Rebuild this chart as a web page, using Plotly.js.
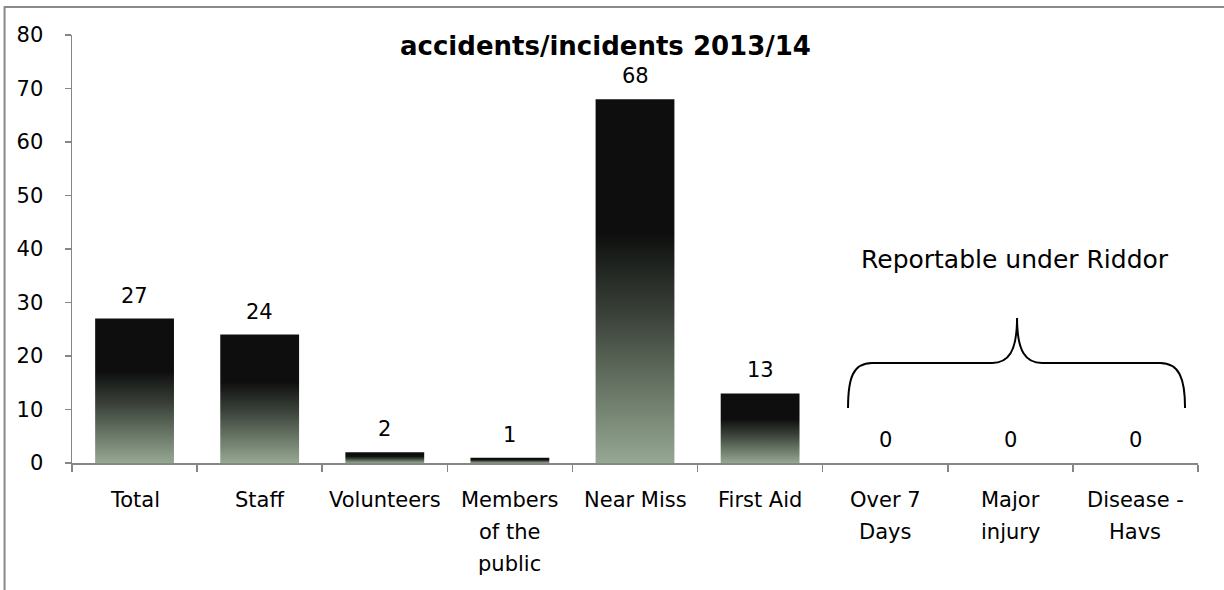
<!DOCTYPE html>
<html>
<head>
<meta charset="utf-8">
<script src="https://cdn.plot.ly/plotly-3.0.1.min.js"></script>
<style>
  html, body { margin: 0; padding: 0; background: #ffffff; }
  #chart { width: 1224px; height: 590px; }
</style>
</head>
<body>
<div id="chart"></div>
<script>
// ---- data ----
const categories = ["Total", "Staff", "Volunteers", "Members of the public", "Near Miss",
                    "First Aid", "Over 7 Days", "Major injury", "Disease - Havs"];
const categoryLines = [["Total"], ["Staff"], ["Volunteers"], ["Members", "of the", "public"],
                       ["Near Miss"], ["First Aid"], ["Over 7", "Days"], ["Major", "injury"], ["Disease -", "Havs"]];
const values = [27, 24, 2, 1, 68, 13, 0, 0, 0];
const chartTitle = "accidents/incidents 2013/14";
const bracketLabel = "Reportable under Riddor";

const labelFont = { family: "DejaVu Sans", size: 21, color: "#000000" };
const axisGray = "#868686";

const trace = {
  type: "bar",
  x: categories,
  y: values,
  marker: { color: "#0e0e0e", line: { width: 0 } },
  hoverinfo: "none"
};

const annotations = [];
// value labels
categories.forEach((c, i) => {
  annotations.push({
    x: c, y: values[i], xref: "x", yref: "y",
    text: String(values[i]), showarrow: false,
    yanchor: "middle", xanchor: "center", yshift: 23,
    font: labelFont
  });
});
// category labels (multi-line, wide spacing)
categories.forEach((c, i) => {
  categoryLines[i].forEach((line, j) => {
    annotations.push({
      x: c, y: 0, xref: "x", yref: "y",
      text: line, showarrow: false,
      yanchor: "middle", xanchor: "center", yshift: -37 - 32 * j,
      font: labelFont
    });
  });
});
// title
annotations.push({
  x: 0.4734, y: 0.974, xref: "paper", yref: "paper",
  text: "<b>" + chartTitle + "</b>", showarrow: false,
  xanchor: "center", yanchor: "middle",
  font: { family: "DejaVu Sans", size: 26, color: "#000000" }
});
// bracket label
annotations.push({
  x: 0.8375, y: 0.4766, xref: "paper", yref: "paper",
  text: bracketLabel, showarrow: false,
  xanchor: "center", yanchor: "middle",
  font: { family: "DejaVu Sans", size: 25, color: "#000000" }
});

const shapes = [
  // outer chart frame (left and top edges visible)
  {
    type: "path", xref: "paper", yref: "paper",
    path: "M -0.0599,-0.4 L -0.0599,1.0654 L 1.1,1.0654",
    line: { color: "#898989", width: 2 }
  },
  // curly brace
  {
    type: "path", xref: "paper", yref: "paper",
    path: "M 0.6892,0.1285 C 0.6892,0.1986 0.6936,0.2336 0.7105,0.2336 " +
          "L 0.8171,0.2336 C 0.8313,0.2336 0.8393,0.2593 0.8393,0.3388 " +
          "C 0.8393,0.2593 0.8472,0.2336 0.8615,0.2336 L 0.9663,0.2336 " +
          "C 0.9831,0.2336 0.9885,0.1986 0.9885,0.1285",
    line: { color: "#000000", width: 2 }
  }
];

const layout = {
  width: 1224, height: 590,
  margin: { l: 72, r: 26, t: 35, b: 127, pad: 0 },
  paper_bgcolor: "#ffffff", plot_bgcolor: "#ffffff",
  showlegend: false,
  bargap: 0.37,
  xaxis: {
    type: "category", range: [-0.5, 8.5],
    showline: true, linecolor: axisGray, linewidth: 1.5,
    ticks: "outside", ticklen: 7, tickcolor: axisGray, tickwidth: 1.5,
    tickson: "boundaries",
    showticklabels: false, showgrid: false, zeroline: false, fixedrange: true
  },
  yaxis: {
    range: [0, 80], dtick: 10, tick0: 0,
    showline: true, linecolor: axisGray, linewidth: 1.5,
    ticks: "outside", ticklen: 6, tickcolor: axisGray, tickwidth: 1.5,
    ticklabelstandoff: 17,
    tickfont: labelFont,
    showgrid: false, zeroline: false, fixedrange: true
  },
  annotations: annotations,
  shapes: shapes
};

Plotly.newPlot("chart", [trace], layout, { staticPlot: true, displayModeBar: false }).then(function (gd) {
  const ns = "http://www.w3.org/2000/svg";
  const svg = gd.querySelector("svg.main-svg");
  let defs = svg.querySelector("defs");
  if (!defs) { defs = document.createElementNS(ns, "defs"); svg.insertBefore(defs, svg.firstChild); }
  const lg = document.createElementNS(ns, "linearGradient");
  lg.setAttribute("id", "barGrad");
  lg.setAttribute("x1", "0"); lg.setAttribute("y1", "0");
  lg.setAttribute("x2", "0"); lg.setAttribute("y2", "1");
  [["0", "#0e0e0e"], ["0.37", "#0e0e0e"], ["0.45", "#1e221e"], ["0.6", "#3c433b"],
   ["0.75", "#5e6a5c"], ["0.9", "#7f8f7c"], ["1", "#95a892"]].forEach(function (s) {
    const st = document.createElementNS(ns, "stop");
    st.setAttribute("offset", s[0]);
    st.setAttribute("stop-color", s[1]);
    lg.appendChild(st);
  });
  defs.appendChild(lg);
  gd.querySelectorAll(".barlayer .point path").forEach(function (p) {
    p.style.fill = "url(#barGrad)";
  });
});
</script>
</body>
</html>
